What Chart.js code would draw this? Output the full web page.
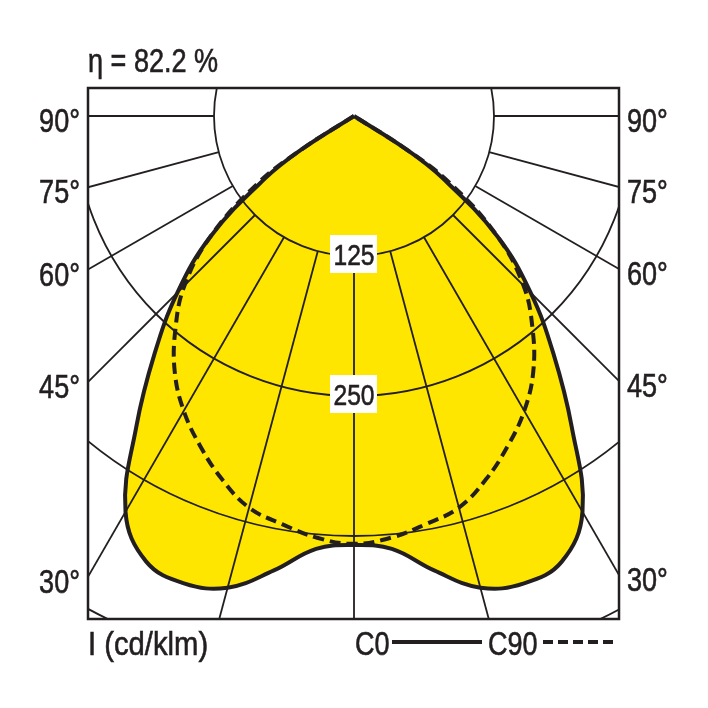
<!DOCTYPE html>
<html><head><meta charset="utf-8">
<script src="https://cdn.jsdelivr.net/npm/chart.js@4/dist/chart.umd.min.js"></script>
<style>html,body{margin:0;padding:0;background:#fff;} canvas{display:block;}</style>
</head><body>
<canvas id="c" width="708" height="708"></canvas>
<script>
// ---- data (cd/klm vs. angle from nadir) ----
const angles    = [0, 5, 10, 15, 20, 25, 30, 35, 40, 45, 50, 55, 57.5, 60, 65, 70, 75, 80, 85, 90];
const c0Values  = [383, 388, 412, 436, 444, 439, 408, 339, 277, 223, 167, 96, 55, 0, 0, 0, 0, 0, 0, 0];
const c90Values = [382, 378, 370, 362, 345, 325, 304, 279, 248, 214, 167, 105, 55, 0, 0, 0, 0, 0, 0, 0];
const ringValues = [125, 250, 375, 500];
const ringLabelValues = [125, 250];
const spokeAngles = [0, 15, 30, 45, 60, 75, 90];
const sideLabelAngles = [90, 75, 60, 45, 30];
const sideLabels = ['90°', '75°', '60°', '45°', '30°'];
const efficiencyText = 'η = 82.2 %';
const unitText = 'I (cd/klm)';
const seriesNames = ['C0', 'C90'];

const INK = '#231f20';
const YELLOW = '#ffe600';

function hasFont(name) {
  const c = document.createElement('canvas').getContext('2d');
  const t = 'mmmmmwwlli10905WQ';
  let diff = false;
  for (const fb of ['monospace', 'serif']) {
    c.font = '40px ' + fb; const a = c.measureText(t).width;
    c.font = '40px "' + name + '", ' + fb; const b = c.measureText(t).width;
    if (a !== b) diff = true;
  }
  return diff;
}
const NARROW = hasFont('Liberation Sans Narrow');
function drawText(ctx, text, x, y, align, size, sx) {
  ctx.save();
  ctx.fillStyle = INK;
  ctx.strokeStyle = INK;
  ctx.lineWidth = 0.6;
  ctx.textAlign = align;
  ctx.textBaseline = 'alphabetic';
  ctx.translate(x, y);
  if (NARROW) {
    ctx.font = size + 'px "Liberation Sans Narrow"';
    ctx.scale(sx || 1, 1);
  } else {
    ctx.font = size + 'px "Liberation Sans", Arial, sans-serif';
    ctx.scale(0.82 * (sx || 1), 1);
  }
  ctx.fillText(text, 0, 0);
  ctx.strokeText(text, 0, 0);
  ctx.restore();
}

function toXY(values) {
  const pts = [];
  const rad = a => a * Math.PI / 180;
  for (let i = angles.length - 1; i >= 0; i--) {
    pts.push({x: -values[i] * Math.sin(rad(angles[i])), y: -values[i] * Math.cos(rad(angles[i]))});
  }
  for (let i = 1; i < angles.length; i++) {
    pts.push({x: values[i] * Math.sin(rad(angles[i])), y: -values[i] * Math.cos(rad(angles[i]))});
  }
  return pts;
}

const polarPlugin = {
  id: 'polarPlugin',
  beforeDatasetsDraw(chart) {
    const {ctx, chartArea: a, scales: {x, y}} = chart;
    const cx = x.getPixelForValue(0), cy = y.getPixelForValue(0);
    ctx.save();
    ctx.beginPath(); ctx.rect(a.left, a.top, a.width, a.height); ctx.clip();
    // yellow fill of C0
    const line = chart.getDatasetMeta(0).dataset;
    if (line.updateControlPoints) line.updateControlPoints(a, 'x');
    ctx.beginPath();
    if (typeof line.path === 'function') {
      line.path(ctx);
    } else {
      chart.getDatasetMeta(0).data.forEach((p, i) => i ? ctx.lineTo(p.x, p.y) : ctx.moveTo(p.x, p.y));
    }
    ctx.closePath();
    ctx.fillStyle = YELLOW;
    ctx.fill();
    // rings
    ctx.strokeStyle = INK; ctx.lineWidth = 1.8;
    for (const v of ringValues) {
      const r = x.getPixelForValue(v) - cx;
      ctx.beginPath(); ctx.arc(cx, cy, r, 0, Math.PI * 2); ctx.stroke();
    }
    // spokes from the first ring outward
    const r0 = x.getPixelForValue(ringValues[0]) - cx;
    const r1 = 2000;
    for (const g of spokeAngles) {
      const s = Math.sin(g * Math.PI / 180), c = Math.cos(g * Math.PI / 180);
      for (const side of (g === 0 ? [1] : [-1, 1])) {
        ctx.beginPath();
        ctx.moveTo(cx + side * r0 * s, cy + r0 * c);
        ctx.lineTo(cx + side * r1 * s, cy + r1 * c);
        ctx.stroke();
      }
    }
    ctx.restore();
  },
  afterDatasetsDraw(chart) {
    const {ctx, chartArea: a, scales: {x, y}} = chart;
    const cx = x.getPixelForValue(0);
    for (const v of ringLabelValues) {
      const py = y.getPixelForValue(-v) - 2;
      ctx.fillStyle = '#fff';
      ctx.fillRect(cx - 24, py - 19, 47, 38);
      drawText(ctx, String(v), cx, py + 11, 'center', 30);
    }
    ctx.save();
    ctx.strokeStyle = INK; ctx.lineWidth = 2.5;
    ctx.strokeRect(a.left, a.top, a.width, a.height);
    ctx.restore();
  },
  afterDraw(chart) {
    const {ctx, chartArea: a, scales: {x, y}} = chart;
    const cx = x.getPixelForValue(0), cy = y.getPixelForValue(0);
    drawText(ctx, efficiencyText, a.left, 72, 'left', 33);
    sideLabelAngles.forEach((g, i) => {
      const t = Math.tan((90 - g) * Math.PI / 180);
      const ly = cy + (cx - a.left) * t;
      const ry = cy + (a.right - cx) * t;
      drawText(ctx, sideLabels[i], 80, ly + 16, 'right', 33);
      drawText(ctx, sideLabels[i], 627, ry + 16, 'left', 33);
    });
    const by = 655;
    drawText(ctx, unitText, a.left, by, 'left', 33, 1.08);
    drawText(ctx, seriesNames[0], 355, by, 'left', 33);
    drawText(ctx, seriesNames[1], 488, by, 'left', 33);
    ctx.save();
    ctx.strokeStyle = INK; ctx.lineWidth = 4;
    ctx.beginPath(); ctx.moveTo(392, 642); ctx.lineTo(482, 642); ctx.stroke();
    ctx.setLineDash([10, 5]);
    ctx.beginPath(); ctx.moveTo(543, 642); ctx.lineTo(617, 642); ctx.stroke();
    ctx.restore();
  }
};

new Chart(document.getElementById('c'), {
  type: 'scatter',
  data: {
    datasets: [
      {label: seriesNames[0], data: toXY(c0Values), showLine: true, borderColor: INK, borderWidth: 4,
       pointRadius: 0, tension: 0.4, fill: false},
      {label: seriesNames[1], data: toXY(c90Values), showLine: true, borderColor: INK, borderWidth: 4,
       borderDash: [11, 6], pointRadius: 0, tension: 0.4, fill: false}
    ]
  },
  options: {
    responsive: false,
    devicePixelRatio: 1,
    animation: false,
    layout: {padding: {left: 88, top: 88, right: 89, bottom: 89}},
    plugins: {legend: {display: false}, tooltip: {enabled: false}},
    scales: {
      x: {type: 'linear', min: -237.5, max: 236.6, display: false},
      y: {type: 'linear', min: -449.1, max: 25, display: false}
    }
  },
  plugins: [polarPlugin]
});
</script>
</body></html>
